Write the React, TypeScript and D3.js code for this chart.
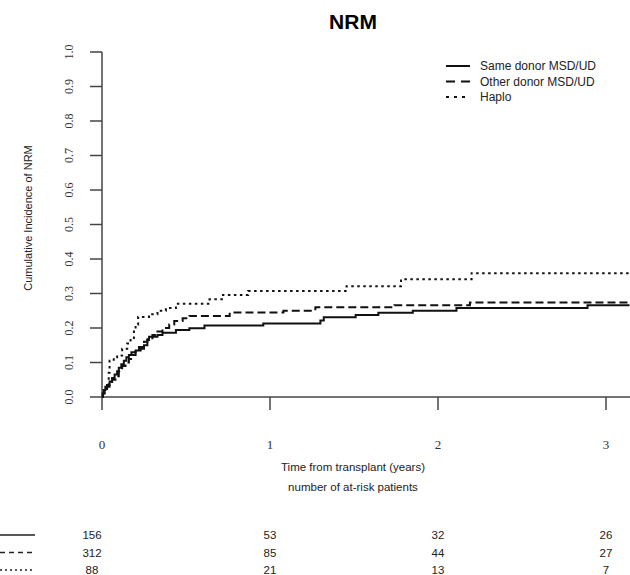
import { useEffect, useRef } from 'react';
import * as d3 from 'd3';

// step points [years, cumulative incidence]
const sameDonor: [number, number][] = [
  [0, 0], [0.005, 0.01], [0.01, 0.02], [0.02, 0.03], [0.03, 0.035], [0.045, 0.045],
  [0.06, 0.055], [0.075, 0.065], [0.09, 0.075], [0.1, 0.085], [0.115, 0.095],
  [0.13, 0.105], [0.145, 0.115], [0.16, 0.122], [0.175, 0.13], [0.2, 0.135],
  [0.23, 0.14], [0.25, 0.15], [0.27, 0.165], [0.28, 0.175], [0.33, 0.18],
  [0.36, 0.186], [0.44, 0.194], [0.52, 0.199], [0.61, 0.207], [0.96, 0.213],
  [1.3, 0.222], [1.32, 0.231], [1.51, 0.238], [1.645, 0.244], [1.85, 0.25],
  [2.11, 0.258], [2.89, 0.266], [3.14, 0.266],
];

const otherDonor: [number, number][] = [
  [0, 0], [0.005, 0.01], [0.015, 0.02], [0.03, 0.03], [0.045, 0.04], [0.06, 0.05],
  [0.08, 0.06], [0.1, 0.075], [0.12, 0.09], [0.14, 0.1], [0.16, 0.11],
  [0.18, 0.122], [0.2, 0.132], [0.22, 0.145], [0.25, 0.16], [0.27, 0.17],
  [0.3, 0.18], [0.33, 0.19], [0.36, 0.2], [0.4, 0.21], [0.43, 0.22],
  [0.48, 0.228], [0.52, 0.235], [0.76, 0.245], [1.08, 0.25], [1.27, 0.26],
  [1.74, 0.266], [2.19, 0.274], [3.14, 0.274],
];

const haplo: [number, number][] = [
  [0, 0], [0.005, 0.012], [0.015, 0.025], [0.025, 0.035], [0.04, 0.07],
  [0.045, 0.105], [0.07, 0.115], [0.09, 0.12], [0.12, 0.14], [0.15, 0.155],
  [0.17, 0.165], [0.19, 0.19], [0.2, 0.21], [0.215, 0.232], [0.28, 0.24],
  [0.33, 0.25], [0.38, 0.258], [0.44, 0.27], [0.64, 0.283], [0.72, 0.296],
  [0.87, 0.307], [1.456, 0.321], [1.78, 0.341], [2.2, 0.359], [3.14, 0.359],
];

const seriesNames = ['Same donor MSD/UD', 'Other donor MSD/UD', 'Haplo'];
const seriesDash = ['none', '8,4', '2.5,3.5'];
const tableDash = ['none', '5,4', '2,3'];

const xTicks = [0, 1, 2, 3];
const yTicks = [0, 0.1, 0.2, 0.3, 0.4, 0.5, 0.6, 0.7, 0.8, 0.9, 1.0];

const atRiskTimes = [0, 1, 2, 3];
const atRiskSame = [156, 53, 32, 26];
const atRiskOther = [312, 85, 44, 27];
const atRiskHaplo = [88, 21, 13, 7];

const W = 630;
const H = 575;
const SANS = '"Liberation Sans", Arial, sans-serif';
const SERIF = '"Liberation Serif", "Times New Roman", serif';

export default function App() {
  const svgRef = useRef<SVGSVGElement>(null);

  useEffect(() => {
    const svg = svgRef.current;
    if (!svg) return;
    const sel = d3.select(svg);
    sel.selectAll('*').remove();

    const x = d3.scaleLinear().domain([0, 3]).range([102, 606]);
    const y = d3.scaleLinear().domain([0, 1]).range([397, 52]);
    const axisColor = '#444';

    // title
    sel.append('text')
      .attr('x', 353).attr('y', 29)
      .attr('text-anchor', 'middle')
      .attr('font-family', SANS).attr('font-weight', 'bold').attr('font-size', 21)
      .text('NRM');

    // y axis
    sel.append('line')
      .attr('x1', x(0)).attr('x2', x(0)).attr('y1', y(0)).attr('y2', y(1))
      .attr('stroke', axisColor).attr('stroke-width', 1.5);
    const yg = sel.append('g');
    yTicks.forEach((t) => {
      yg.append('line')
        .attr('x1', x(0) - 12).attr('x2', x(0)).attr('y1', y(t)).attr('y2', y(t))
        .attr('stroke', axisColor).attr('stroke-width', 1.5);
      yg.append('text')
        .attr('transform', `translate(72.5,${y(t)}) rotate(-90)`)
        .attr('text-anchor', 'middle')
        .attr('font-family', SERIF).attr('font-size', 12).attr('fill', '#333')
        .text(d3.format('.1f')(t));
    });
    sel.append('text')
      .attr('transform', `translate(32,${218}) rotate(-90)`)
      .attr('text-anchor', 'middle')
      .attr('font-family', SANS).attr('font-size', 11).attr('fill', '#222')
      .text('Cumulative Incidence of NRM');

    // x axis
    sel.append('line')
      .attr('x1', x(0)).attr('x2', W).attr('y1', y(0)).attr('y2', y(0))
      .attr('stroke', axisColor).attr('stroke-width', 1.5);
    xTicks.forEach((t) => {
      sel.append('line')
        .attr('x1', x(t)).attr('x2', x(t)).attr('y1', y(0)).attr('y2', y(0) + 13)
        .attr('stroke', axisColor).attr('stroke-width', 1.5);
      sel.append('text')
        .attr('x', x(t)).attr('y', 449)
        .attr('text-anchor', 'middle')
        .attr('font-family', SERIF).attr('font-size', 13).attr('fill', '#333')
        .text(String(t));
    });
    sel.append('text')
      .attr('x', 353).attr('y', 471)
      .attr('text-anchor', 'middle')
      .attr('font-family', SANS).attr('font-size', 11.5).attr('fill', '#222')
      .text('Time from transplant (years)');
    sel.append('text')
      .attr('x', 353).attr('y', 491)
      .attr('text-anchor', 'middle')
      .attr('font-family', SANS).attr('font-size', 11.5).attr('fill', '#222')
      .text('number of at-risk patients');

    // curves
    const line = d3.line<[number, number]>()
      .x((d) => x(d[0]))
      .y((d) => y(d[1]))
      .curve(d3.curveStepAfter);
    [sameDonor, otherDonor, haplo].forEach((data, i) => {
      sel.append('path')
        .attr('d', line(data) ?? '')
        .attr('fill', 'none')
        .attr('stroke', '#111')
        .attr('stroke-width', 2)
        .attr('stroke-dasharray', seriesDash[i]);
    });

    // legend
    const legend = sel.append('g');
    seriesNames.forEach((name, i) => {
      const ly = 66 + i * 15.5;
      legend.append('line')
        .attr('x1', 446).attr('x2', 470).attr('y1', ly).attr('y2', ly)
        .attr('stroke', '#111').attr('stroke-width', 2)
        .attr('stroke-dasharray', i === 0 ? 'none' : i === 1 ? '9,6' : '3,5');
      legend.append('text')
        .attr('x', 480).attr('y', ly + 4.3)
        .attr('font-family', SANS).attr('font-size', 12).attr('fill', '#222')
        .text(name);
    });

    // at-risk table (first column sits a little left of the 0 tick)
    [atRiskSame, atRiskOther, atRiskHaplo].forEach((row, i) => {
      const ry = 535 + i * 17.5;
      sel.append('line')
        .attr('x1', 0).attr('x2', 35).attr('y1', ry).attr('y2', ry)
        .attr('stroke', '#222').attr('stroke-width', 1.3)
        .attr('stroke-dasharray', tableDash[i]);
      row.forEach((n, j) => {
        sel.append('text')
          .attr('x', x(atRiskTimes[j]) - (j === 0 ? 10 : 0)).attr('y', ry + 4.2)
          .attr('text-anchor', 'middle')
          .attr('font-family', SANS).attr('font-size', 11.5).attr('fill', '#222')
          .text(String(n));
      });
    });
  }, []);

  return (
    <svg
      ref={svgRef}
      width={W}
      height={H}
      style={{ position: 'absolute', left: 0, top: 0, background: '#fff' }}
    />
  );
}
